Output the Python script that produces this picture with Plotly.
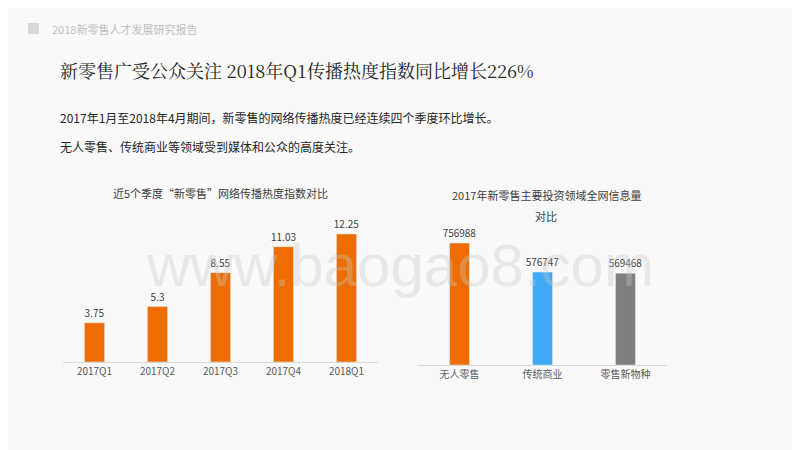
import plotly.graph_objects as go

q_labels = ["2017Q1", "2017Q2", "2017Q3", "2017Q4", "2018Q1"]
q_values = [3.75, 5.3, 8.55, 11.03, 12.25]
q_text = ["3.75", "5.3", "8.55", "11.03", "12.25"]

inv_labels = ["无人零售", "传统商业", "零售新物种"]
inv_values = [756988, 576747, 569468]
inv_colors = ["#ed6d00", "#3fa9f5", "#7f7f7f"]

W, H = 792, 442
OX, OY = 8, 8
def px(x): return (x - OX) / W
def py(y): return 1 - (y - OY) / H

F = "Noto Sans CJK SC"
fig = go.Figure()
fig.add_trace(go.Bar(x=q_labels, y=q_values, text=q_text, textposition="outside",
                     marker_color="#ed6d00", width=0.32, cliponaxis=False, constraintext="none",
                     textfont=dict(size=10, color="#404040"), xaxis="x", yaxis="y"))
fig.add_trace(go.Bar(x=inv_labels, y=inv_values, text=[str(v) for v in inv_values],
                     textposition="outside", marker_color=inv_colors, width=0.24, cliponaxis=False,
                     constraintext="none",
                     textfont=dict(size=10, color="#404040"), xaxis="x2", yaxis="y2"))

axcommon = dict(showgrid=False, zeroline=False, ticks="", tickfont=dict(size=10, color="#595959"),
                showline=True, linecolor="#d9d9d9", linewidth=1, tickangle=0)
def ann(x, y, text, size, color, xanchor="center", family=None):
    f = dict(size=size, color=color)
    if family: f["family"] = family
    return dict(x=x, y=y, xref="paper", yref="paper", text=text, showarrow=False,
                xanchor=xanchor, yanchor="middle", font=f)

fig.update_layout(
    width=W, height=H, margin=dict(l=0, r=0, t=0, b=0),
    paper_bgcolor="#f9f9f9", plot_bgcolor="rgba(0,0,0,0)", showlegend=False,
    font=dict(family=F),
    xaxis=dict(domain=[px(63), px(378)], anchor="y", **axcommon),
    yaxis=dict(domain=[py(362), py(200)], range=[0, 15.5], visible=False),
    xaxis2=dict(domain=[px(418), px(667)], anchor="y2", **axcommon),
    yaxis2=dict(domain=[py(365), py(205)], range=[0, 992800], visible=False),
    shapes=[dict(type="rect", xref="paper", yref="paper", x0=px(28), x1=px(39), y0=py(23), y1=py(34),
                 fillcolor="#d9d9d9", line_width=0)],
    annotations=[
        ann(px(50), py(29), "2018新零售人才发展研究报告", 11, "#bfbfbf", "left"),
        ann(px(58), py(70), "新零售广受公众关注 2018年Q1传播热度指数同比增长226%", 18, "#262626", "left",
            "Noto Serif CJK SC, Noto Sans CJK SC"),
        ann(px(58), py(117), "2017年1月至2018年4月期间，新零售的网络传播热度已经连续四个季度环比增长。", 12, "#262626", "left"),
        ann(px(58), py(146), "无人零售、传统商业等领域受到媒体和公众的高度关注。", 12, "#262626", "left"),
        ann(px(220), py(193), "近5个季度“新零售”网络传播热度指数对比", 11, "#404040"),
        ann(px(546), py(195), "2017年新零售主要投资领域全网信息量", 11, "#404040"),
        ann(px(546), py(216), "对比", 11, "#404040"),
        ann(px(400), py(265), "www.baogao8.com", 60, "rgba(200,200,200,0.35)", "center", "Liberation Sans"),
    ],
)
fig.write_html("out.html")
